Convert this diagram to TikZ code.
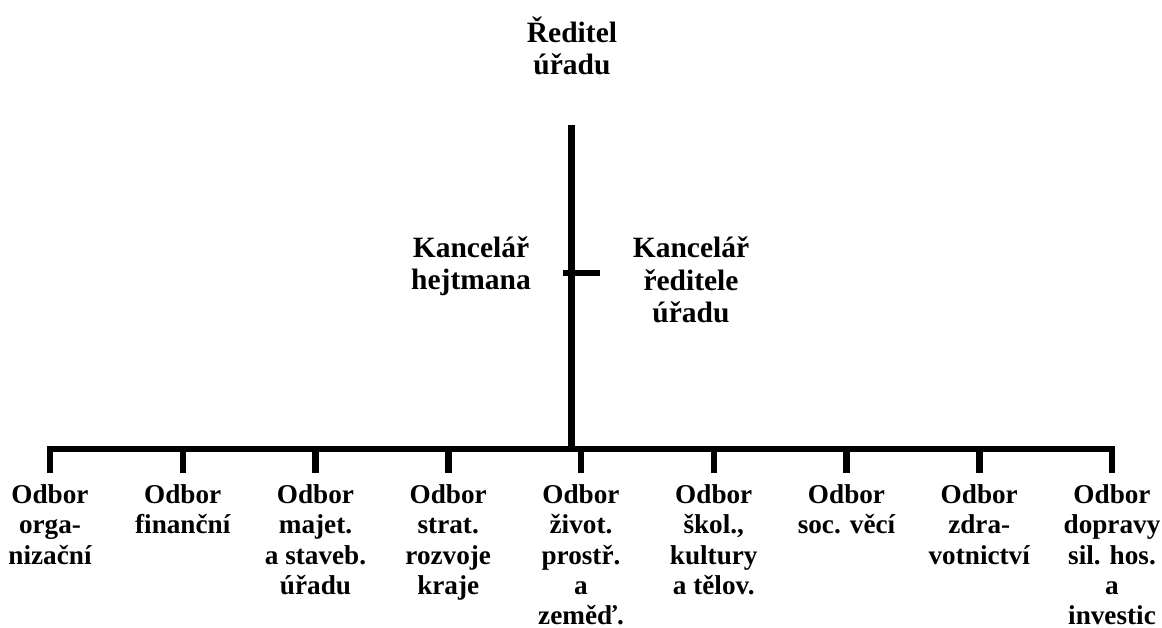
\documentclass[tikz,border=0pt]{standalone}
\usepackage{fontspec}
\setmainfont{Liberation Serif}
\usetikzlibrary{calc}

\tikzset{
  org/.style={line width=6.5pt, line join=miter},
  unit/.style={font=\fontsize{29.5}{32.5}\selectfont\bfseries, align=center, inner sep=0pt, outer sep=0pt},
  odbor/.style={unit, font=\fontsize{27.2}{30.3}\selectfont\bfseries, anchor=north, inner ysep=11.6pt}
}

\begin{document}
\begin{tikzpicture}[x=1pt,y=-1pt]
  \useasboundingbox (0,0) rectangle (1162,628);
  \node[unit,anchor=base] (reditel) at (572,75) {Ředitel\\úřadu};
  \node[unit,anchor=base] (hejtman) at (471,290) {Kancelář\\hejtmana};
  \node[unit,anchor=base] (kancred) at (691,323) {Kancelář\\ředitele\\úřadu};
  \coordinate (top) at (571.5,125);
  \coordinate (hub) at (571.5,449);
  \coordinate (stubL) at (563,273);
  \coordinate (stubR) at (600,273);
  \foreach \i/\t in {1/{Odbor\\orga-\\nizační}, 2/{Odbor\\finanční}, 3/{Odbor\\majet.\\a staveb.\\úřadu},
      4/{Odbor\\strat.\\rozvoje\\kraje}, 5/{Odbor\\život.\\prostř.\\a\\zeměď.}, 6/{Odbor\\škol.,\\kultury\\a tělov.},
      7/{Odbor\\soc. věcí}, 8/{Odbor\\zdra-\\votnictví}, 9/{Odbor\\dopravy\\sil. hos.\\a\\investic}}{
     \node[odbor] (o\i) at ({50+(\i-1)*132.75},473) {\t};
  }
  \draw[org] (top) -- (hub);
  \draw[org] (stubL) -- (stubR);
  \draw[org] (o1.north) -- (o1.north |- hub) -- (o9.north |- hub) -- (o9.north);
  \foreach \i in {2,...,8}{
     \draw[org] (o\i.north |- hub) -- (o\i.north);
  }
\end{tikzpicture}
\end{document}
